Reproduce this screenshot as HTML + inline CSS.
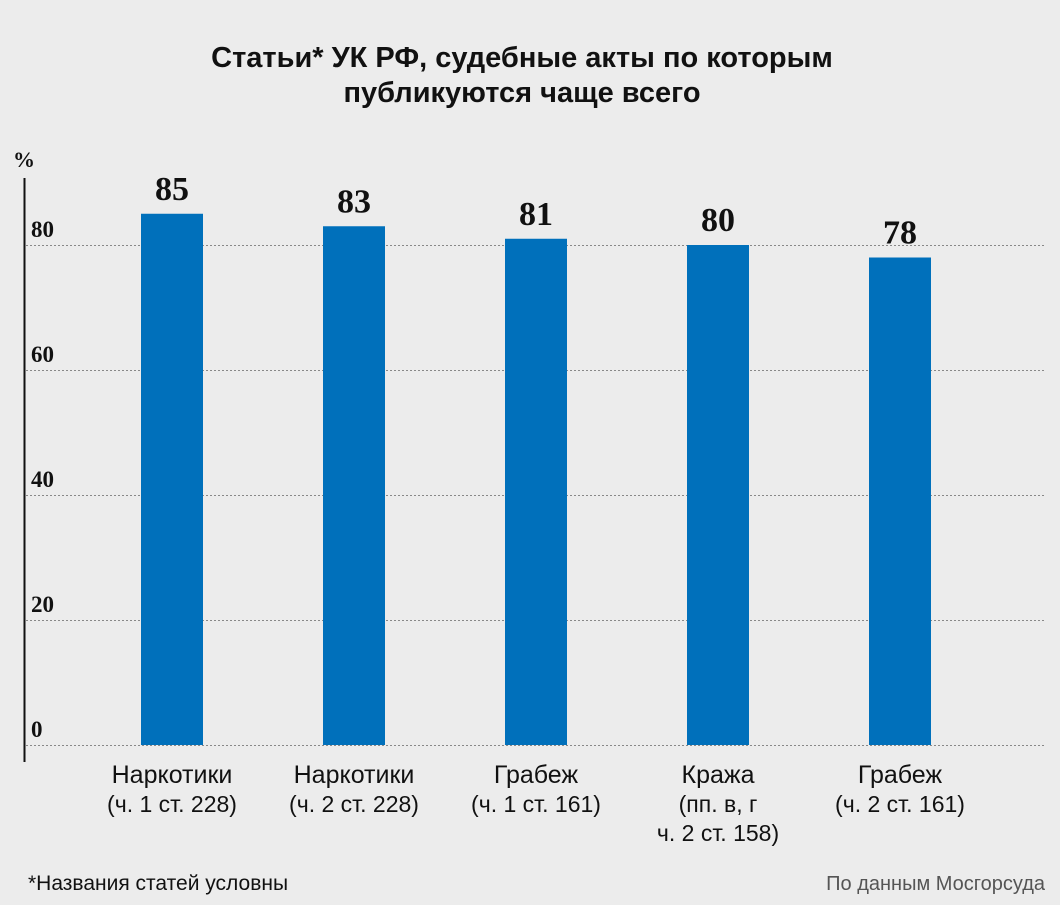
<!DOCTYPE html>
<html><head><meta charset="utf-8"><style>
body{margin:0;background:#ececec;}
svg{display:block;}
</style></head><body>
<svg width="1060" height="905" viewBox="0 0 1060 905">
<rect width="1060" height="905" fill="#ececec"/>
<text x="522" y="67" text-anchor="middle" font-family="Liberation Sans, sans-serif" font-weight="bold" font-size="29" fill="#111">Статьи* УК РФ, судебные акты по которым</text>
<text x="522" y="102" text-anchor="middle" font-family="Liberation Sans, sans-serif" font-weight="bold" font-size="29" fill="#111">публикуются чаще всего</text>
<text x="13" y="167" font-family="Liberation Serif, serif" font-weight="bold" font-size="22" fill="#111">%</text>
<g id="grid"></g>
<g id="bars"></g>
<line x1="24.5" y1="178" x2="24.5" y2="762" stroke="#111" stroke-width="2"/>
<text x="28" y="890" font-family="Liberation Sans, sans-serif" font-size="21" fill="#111">*Названия статей условны</text>
<text x="1045" y="890" text-anchor="end" font-family="Liberation Sans, sans-serif" font-size="20" fill="#555">По данным Мосгорсуда</text>
</svg>
<script>
const categories=[["Наркотики","(ч. 1 ст. 228)"],["Наркотики","(ч. 2 ст. 228)"],["Грабеж","(ч. 1 ст. 161)"],["Кража","(пп. в, г","ч. 2 ст. 158)"],["Грабеж","(ч. 2 ст. 161)"]];
const values=[85,83,81,80,78];
const yTicks=[0,20,40,60,80];
const NS="http://www.w3.org/2000/svg";
const y0=745, pxPer=6.25;
function yScale(v){return y0-v*pxPer;}
function xCenter(i){return 172+i*182;}
const grid=document.getElementById('grid'), bars=document.getElementById('bars');
function mk(tag,attrs,parent){const e=document.createElementNS(NS,tag);for(const k in attrs)e.setAttribute(k,attrs[k]);parent.appendChild(e);return e;}
yTicks.forEach(t=>{
  const y=yScale(t);
  const l=mk('line',{x1:26,x2:1046,y1:y+0.5,y2:y+0.5,stroke:'#888','stroke-width':1,'stroke-dasharray':'2 2'},grid);
  
  
  const tx=mk('text',{x:31,y:y-8,'font-family':'Liberation Serif, serif','font-weight':'bold','font-size':23,fill:'#111'},grid);
  tx.textContent=t;
  
  
});
values.forEach((v,i)=>{
  const cx=xCenter(i), w=62;
  const r=mk('rect',{x:cx-w/2,y:yScale(v),width:w,height:y0-yScale(v),fill:'#0070bb'},bars);
  
  
  const vt=mk('text',{x:cx,y:yScale(v)-14,'text-anchor':'middle','font-family':'Liberation Serif, serif','font-weight':'bold','font-size':34,fill:'#111'},bars);
  vt.textContent=v;
  
  
  categories[i].forEach((line,j)=>{
    const ct=mk('text',{x:cx,y:783+j*29,'text-anchor':'middle','font-family':'Liberation Sans, sans-serif','font-size':j?23:25,fill:'#111'},bars);
    ct.textContent=line;
    
    
  });
});
</script>
</body></html>
